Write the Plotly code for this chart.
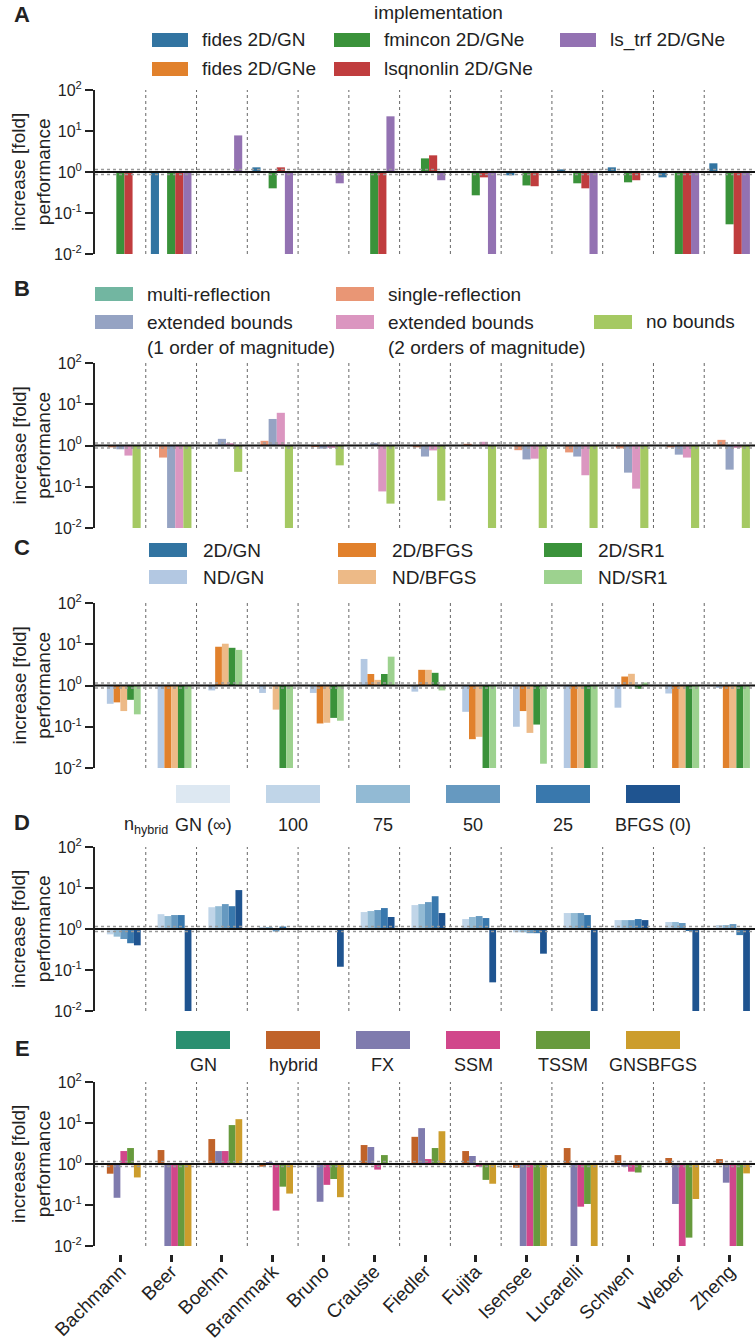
import plotly.graph_objects as go

W, H = 755, 1342

categories = ["Bachmann", "Beer", "Boehm", "Brannmark", "Bruno", "Crauste", "Fiedler",
              "Fujita", "Isensee", "Lucarelli", "Schwen", "Weber", "Zheng"]

# Panel A - implementation
a_names = ["fides 2D/GN", "fides 2D/GNe", "fmincon 2D/GNe", "lsqnonlin 2D/GNe", "ls_trf 2D/GNe"]
a_fides_gn = [1, 0.01, 1, 1.3, 1, 1, 1, 1, 0.83, 1.16, 1.3, 0.74, 1.63]
a_fides_gne = [1, 1, 1, 1, 1, 1, 1, 1, 1, 1, 1, 1, 1]
a_fmincon = [0.01, 0.01, 1, 0.4, 1, 0.01, 2.15, 0.27, 0.47, 0.53, 0.56, 0.01, 0.053]
a_lsqnonlin = [0.01, 0.01, 1, 1.3, 1, 0.01, 2.55, 0.74, 0.45, 0.4, 0.63, 0.01, 0.01]
a_ls_trf = [1, 0.01, 7.8, 0.01, 0.53, 22.8, 0.63, 0.01, 1, 0.01, 1, 0.01, 0.01]

# Panel B - bounds handling
b_names = ["multi-reflection", "single-reflection", "extended bounds<br>(1 order of magnitude)",
           "extended bounds<br>(2 orders of magnitude)", "no bounds"]
b_multi = [1, 1, 1, 1, 1, 1, 1, 1, 1, 1, 1, 1, 1]
b_single = [0.9, 0.51, 1, 1.3, 0.92, 1, 0.9, 1.1, 0.77, 0.68, 0.85, 0.9, 1.37]
b_ext1 = [0.81, 0.01, 1.45, 4.4, 0.84, 1.16, 0.54, 1, 0.46, 0.54, 0.22, 0.6, 0.26]
b_ext2 = [0.57, 0.01, 1.14, 6.2, 0.87, 0.077, 0.76, 1.23, 0.48, 0.19, 0.09, 0.51, 0.87]
b_nobounds = [0.01, 0.01, 0.23, 0.01, 0.33, 0.039, 0.046, 0.01, 0.01, 0.01, 0.01, 0.01, 0.01]

# Panel C - subspace / hessian approximation
c_names = ["2D/GN", "ND/GN", "2D/BFGS", "ND/BFGS", "2D/SR1", "ND/SR1"]
c_2d_gn = [1, 1, 1, 1, 1, 1, 1, 1, 1, 1, 1, 1, 1]
c_nd_gn = [0.36, 0.01, 0.76, 0.66, 0.66, 4.4, 0.71, 0.23, 0.1, 0.01, 0.29, 0.64, 0.87]
c_2d_bfgs = [0.39, 0.01, 8.7, 1, 0.12, 1.9, 2.4, 0.05, 0.24, 0.01, 1.65, 0.01, 0.01]
c_nd_bfgs = [0.24, 0.01, 10.3, 0.26, 0.125, 1.37, 2.4, 0.057, 0.071, 0.01, 1.92, 0.01, 0.01]
c_2d_sr1 = [0.45, 0.01, 8.2, 0.01, 0.164, 1.9, 2.03, 0.01, 0.113, 0.01, 0.83, 0.01, 0.01]
c_nd_sr1 = [0.2, 0.01, 7.3, 0.01, 0.14, 5.0, 0.76, 0.01, 0.0127, 0.01, 1.18, 0.01, 0.01]

# Panel D - n_hybrid
d_names = ["GN (∞)", "100", "75", "50", "25", "BFGS (0)"]
d_gn_inf = [1, 1, 1, 1, 1, 1, 1, 1, 1, 1, 1, 1, 1]
d_100 = [0.74, 2.3, 3.4, 1.12, 1, 2.59, 3.83, 1.75, 0.83, 2.45, 1.65, 1.48, 1.25]
d_75 = [0.65, 2.07, 3.6, 1.1, 1, 2.74, 4.05, 1.96, 0.83, 2.45, 1.65, 1.48, 1.25]
d_50 = [0.57, 2.19, 4.05, 0.87, 1, 2.9, 4.53, 2.07, 0.79, 2.45, 1.65, 1.4, 1.32]
d_25 = [0.45, 2.19, 3.6, 1.15, 1, 3.24, 6.3, 1.85, 0.79, 2.19, 1.75, 0.9, 0.71]
d_bfgs0 = [0.4, 0.01, 8.9, 1, 0.12, 1.96, 2.45, 0.05, 0.25, 0.01, 1.65, 0.01, 0.01]

# Panel E - hessian approximation schemes
e_names = ["GN", "hybrid", "FX", "SSM", "TSSM", "GNSBFGS"]
e_gn = [1, 1, 1, 1, 1, 1, 1, 1, 1, 1, 1, 1, 1]
e_hybrid = [0.58, 2.19, 4.06, 0.86, 1, 2.9, 4.6, 2.07, 0.81, 2.45, 1.65, 1.4, 1.32]
e_fx = [0.15, 0.01, 2.07, 1.12, 0.12, 2.6, 7.5, 1.57, 0.01, 0.01, 0.86, 0.106, 0.35]
e_ssm = [2.07, 0.01, 2.07, 0.073, 0.31, 0.73, 1.32, 0.86, 0.01, 0.091, 0.65, 0.01, 0.01]
e_tssm = [2.45, 0.01, 8.9, 0.28, 0.43, 1.65, 2.45, 0.41, 0.01, 0.106, 0.62, 0.016, 0.01]
e_gnsbfgs = [0.47, 0.01, 12.4, 0.19, 0.155, 1, 6.3, 0.33, 0.01, 0.01, 1, 0.14, 0.59]

FONT = "Liberation Sans, Arial, sans-serif"

a_colors = ["#3274a1", "#e1812c", "#3a923a", "#c03d3e", "#9372b2"]
b_colors = ["#72b6a1", "#e99675", "#95a3c3", "#db96c0", "#a5c963"]
c_colors = ["#3274a1", "#b3c8e2", "#e1812c", "#edba87", "#3a923a", "#9dd28f"]
d_colors = ["#dde8f2", "#c0d5e8", "#92bad4", "#6699c0", "#3978ad", "#1f5490"]
e_colors = ["#2a8f70", "#c0632a", "#7f7bae", "#d1478b", "#679a3d", "#cc9d2c"]

panels = [
    (a_names, [a_fides_gn, a_fides_gne, a_fmincon, a_lsqnonlin, a_ls_trf], a_colors, (90, 254)),
    (b_names, [b_multi, b_single, b_ext1, b_ext2, b_nobounds], b_colors, (363, 528)),
    (c_names, [c_2d_gn, c_nd_gn, c_2d_bfgs, c_nd_bfgs, c_2d_sr1, c_nd_sr1], c_colors, (603, 768)),
    (d_names, [d_gn_inf, d_100, d_75, d_50, d_25, d_bfgs0], d_colors, (847, 1011)),
    (e_names, [e_gn, e_hybrid, e_fx, e_ssm, e_tssm, e_gnsbfgs], e_colors, (1082, 1246)),
]


def X(px):
    return px / W


def Y(py):
    return 1 - py / H


fig = go.Figure()
layout = dict(width=W, height=H, margin=dict(l=0, r=0, t=0, b=0, autoexpand=False),
              paper_bgcolor="white", plot_bgcolor="white", barmode="group",
              bargap=0.2, bargroupgap=0, showlegend=False,
              font=dict(family=FONT, color="#222", size=15))
shapes = []
annotations = []
x_dom = [95 / W, 1.0]

for i, (names, series, colors, (top, bot)) in enumerate(panels):
    n = i + 1
    sfx = "" if n == 1 else str(n)
    for name, vals, col in zip(names, series, colors):
        fig.add_trace(go.Bar(
            x=categories, y=[v - 1 for v in vals], base=1, name=name.replace("<br>", " "),
            marker=dict(color=col, line=dict(width=0)),
            xaxis="x" + sfx, yaxis="y" + sfx,
        ))
    xa = dict(domain=x_dom, type="category", categoryorder="array", categoryarray=categories,
              range=[-0.5, 12.5], showgrid=False, zeroline=False, showline=False,
              anchor="y" + sfx, automargin=False)
    if n == 5:
        xa.update(anchor="free", position=Y(1254), ticks="outside", ticklen=7, tickwidth=2.5,
                  tickcolor="#222", tickangle=-45, tickfont=dict(size=19, color="#222"),
                  ticklabelstandoff=-9, showticklabels=True)
    else:
        xa.update(showticklabels=False, ticks="")
    ya = dict(domain=[Y(bot), Y(top)], type="log", range=[-2, 2], anchor="x" + sfx,
              showgrid=False, zeroline=False, showline=True, linecolor="#222", linewidth=2,
              ticks="outside", ticklen=8, tickwidth=2, tickcolor="#222", automargin=False,
              tickvals=[0.01, 0.1, 1, 10, 100],
              ticktext=["10<sup>-2</sup>", "10<sup>-1</sup>", "10<sup>0</sup>",
                        "10<sup>1</sup>", "10<sup>2</sup>"],
              tickfont=dict(size=16, color="#222"))
    layout["xaxis" + sfx] = xa
    layout["yaxis" + sfx] = ya

    # category separators
    for k in range(12):
        shapes.append(dict(type="line", xref="x" + sfx, yref="y" + sfx + " domain",
                           x0=k + 0.5, x1=k + 0.5, y0=0, y1=1,
                           line=dict(color="#666", width=1, dash="dot"), layer="below"))
    # reference lines (data coordinates on log axis)
    for yv, colr, wd, dsh in [(1.15, "#999", 1.5, "dot"), (0.87, "#999", 1.5, "dot"),
                              (1.0, "#111", 2, "solid")]:
        shapes.append(dict(type="line", xref="x" + sfx + " domain", yref="y" + sfx,
                           x0=0, x1=1, y0=yv, y1=yv,
                           line=dict(color=colr, width=wd, dash=dsh), layer="above"))
    # y title
    annotations.append(dict(text="increase [fold]<br>performance", textangle=-90,
                            x=X(31), y=Y((top + bot) / 2), xref="paper", yref="paper",
                            showarrow=False, font=dict(size=19, color="#222"),
                            xanchor="center", yanchor="middle"))

# panel letters
for letter, py in [("A", 15), ("B", 288), ("C", 548), ("D", 822), ("E", 1048)]:
    annotations.append(dict(text="<b>%s</b>" % letter, x=X(22), y=Y(py), xref="paper",
                            yref="paper", showarrow=False, font=dict(size=22, color="#222"),
                            xanchor="center", yanchor="middle"))


def swatch(x0, x1, yc, h, col):
    shapes.append(dict(type="rect", xref="paper", yref="paper", x0=X(x0), x1=X(x1),
                       y0=Y(yc + h / 2), y1=Y(yc - h / 2), fillcolor=col,
                       line=dict(width=0), layer="above"))


def label(text, x, yc, anchor="left", size=19):
    annotations.append(dict(text=text, x=X(x), y=Y(yc), xref="paper", yref="paper",
                            showarrow=False, xanchor=anchor, yanchor="middle",
                            font=dict(size=size, color="#222"), align="left"))


# Legend A (column-wise fill)
label("implementation", 438, 13, anchor="center")
a_leg = [(0, 152, 40), (1, 152, 69), (2, 334, 40), (3, 334, 69), (4, 560, 40)]
for idx, sx, yc in a_leg:
    swatch(sx, sx + 36, yc, 14, a_colors[idx])
    label(a_names[idx], sx + 48, yc)

# Legend B
b_leg = [(0, 95, 294), (2, 95, 322), (1, 336, 294), (3, 336, 322), (4, 594, 322)]
for idx, sx, yc in b_leg:
    swatch(sx, sx + 38, yc, 14, b_colors[idx])
    if "<br>" in b_names[idx]:
        annotations.append(dict(text=b_names[idx], x=X(sx + 50), y=Y(yc - 12), xref="paper",
                                yref="paper", showarrow=False, xanchor="left", yanchor="top",
                                font=dict(size=19, color="#222"), align="left"))
    else:
        label(b_names[idx], sx + 50, yc)

# Legend C
c_leg = [(0, 149, 550), (1, 149, 577), (2, 338, 550), (3, 338, 577), (4, 544, 550), (5, 544, 577)]
for idx, sx, yc in c_leg:
    swatch(sx, sx + 38, yc, 14, c_colors[idx])
    label(c_names[idx], sx + 52, yc)

# Legend D
sw_x = [176, 266, 356, 446, 536, 626]
for idx, sx in enumerate(sw_x):
    swatch(sx, sx + 54, 794, 18, d_colors[idx])
    label(d_names[idx], sx + 27, 825, anchor="center", size=18)
label("n<sub>hybrid</sub>", 146, 826, anchor="center", size=18)

# Legend E
for idx, sx in enumerate(sw_x):
    swatch(sx, sx + 54, 1040, 18, e_colors[idx])
    label(e_names[idx], sx + 27, 1065, anchor="center", size=18)

layout["shapes"] = shapes
layout["annotations"] = annotations
fig.update_layout(**layout)
fig.write_html("out.html", config={"displayModeBar": False},
               post_script="document.body.style.margin='0px';")
